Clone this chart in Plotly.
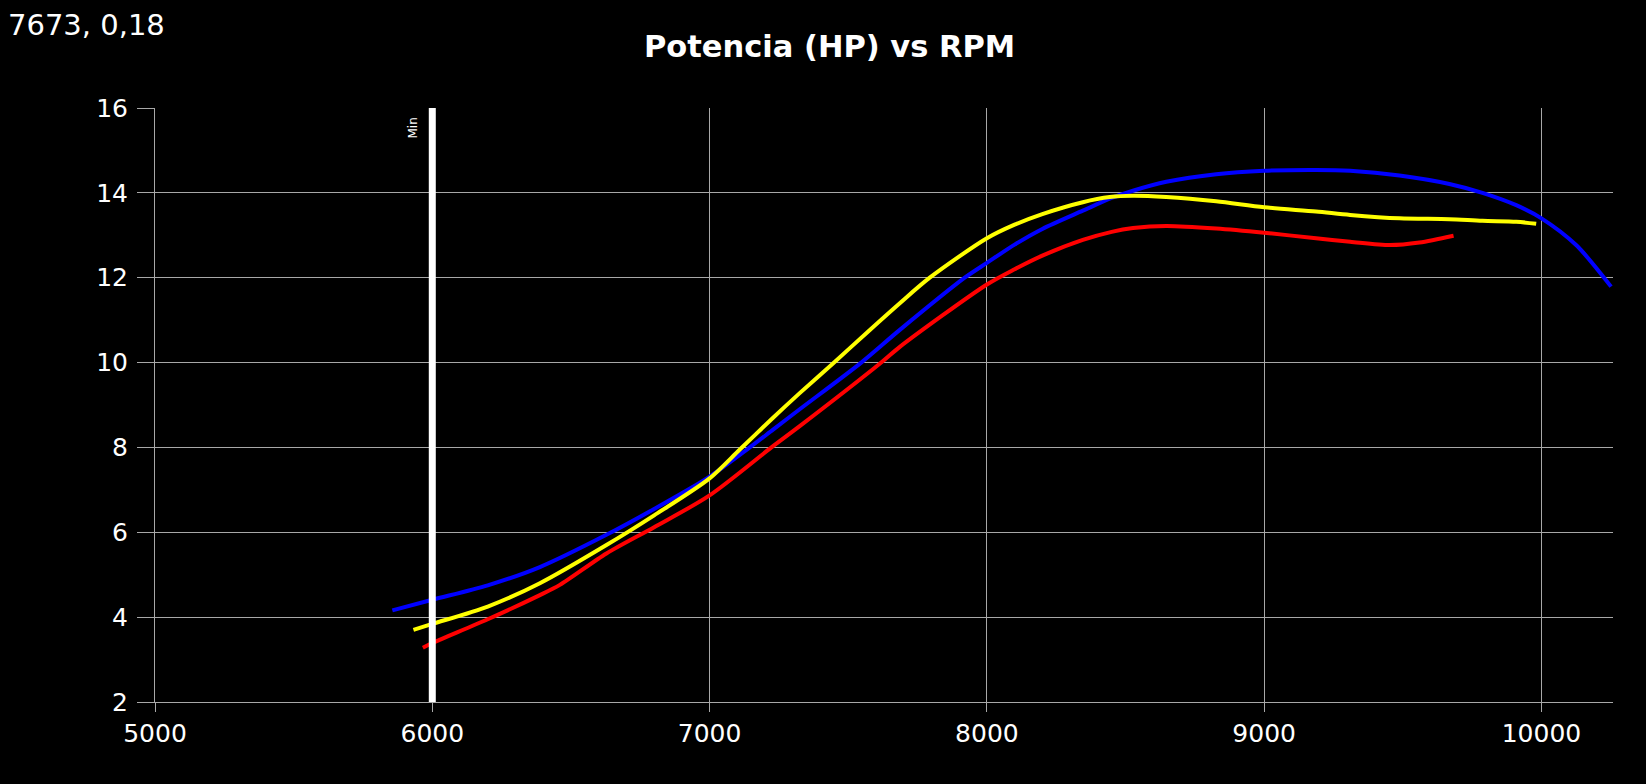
import plotly.graph_objects as go

# ---- data ----
rpm_blue = [5856, 6000, 6200, 6388, 6628, 6800, 7000, 7145, 7229, 7325, 7547, 7686,
            7920, 8000, 8100, 8200, 8346, 8450, 8527, 8647, 8827, 9000, 9187, 9310,
            9488, 9668, 9787, 9909, 10000, 10125, 10251]
hp_blue = [4.16, 4.41, 4.75, 5.18, 5.94, 6.55, 7.31, 8.0, 8.42, 8.90, 10.0, 10.77,
           12.0, 12.35, 12.78, 13.15, 13.58, 13.88, 14.05, 14.26, 14.44, 14.52, 14.54, 14.52,
           14.41, 14.21, 14.00, 13.71, 13.40, 12.77, 11.79]

rpm_yellow = [5932, 6000, 6200, 6388, 6628, 6800, 7000, 7109, 7229, 7325, 7445, 7578,
              7686, 7794, 8000, 8100, 8200, 8346, 8443, 8527, 8647, 8827, 9000, 9187,
              9310, 9488, 9668, 9787, 9909, 9981]
hp_yellow = [3.70, 3.84, 4.25, 4.80, 5.70, 6.40, 7.27, 7.95, 8.70, 9.28, 9.98, 10.77,
             11.40, 12.0, 12.93, 13.25, 13.50, 13.78, 13.90, 13.93, 13.90, 13.80, 13.66, 13.56,
             13.48, 13.40, 13.38, 13.34, 13.32, 13.27]

rpm_red = [5966, 6000, 6200, 6388, 6460, 6628, 6800, 7000, 7223, 7325, 7619, 7686,
           8000, 8100, 8200, 8346, 8450, 8527, 8647, 8827, 9000, 9187, 9310, 9453,
           9560, 9683]
hp_red = [3.28, 3.39, 3.95, 4.52, 4.76, 5.50, 6.12, 6.87, 8.0, 8.50, 10.0, 10.37,
          11.84, 12.20, 12.52, 12.89, 13.08, 13.17, 13.22, 13.16, 13.06, 12.93, 12.85, 12.77,
          12.83, 12.99]

x_ticks = [5000, 6000, 7000, 8000, 9000, 10000]
x_tick_text = ["5000", "6000", "7000", "8000", "9000", "10000"]
y_ticks = [2, 4, 6, 8, 10, 12, 14, 16]
min_rpm = 6000
cursor_text = "7673, 0,18"
title_text = "Potencia (HP) vs RPM"

FONT = "DejaVu Sans"
GRID = "#a8a8a8"

fig = go.Figure()
for xs, ys, col in [(rpm_blue, hp_blue, "#0000ff"),
                    (rpm_yellow, hp_yellow, "#ffff00"),
                    (rpm_red, hp_red, "#ff0000")]:
    fig.add_trace(go.Scatter(x=xs, y=ys, mode="lines",
                             line=dict(color=col, width=4, shape="spline", smoothing=0.8),
                             showlegend=False, hoverinfo="skip"))

fig.add_shape(type="line", xref="x", yref="paper", x0=min_rpm, x1=min_rpm, y0=0, y1=1,
              line=dict(color="white", width=7), layer="above")
fig.add_annotation(xref="x", yref="paper", x=min_rpm, y=0.966, text="Min",
                   textangle=-90, showarrow=False, xanchor="right", yanchor="middle",
                   xshift=-10, font=dict(family=FONT, size=12, color="white"))

fig.add_annotation(xref="paper", yref="paper", x=-0.102, y=1.14, text=cursor_text,
                   showarrow=False, xanchor="left", yanchor="middle",
                   font=dict(family=FONT, size=29, color="white"))

fig.update_layout(
    width=1646, height=784,
    paper_bgcolor="black", plot_bgcolor="black",
    margin=dict(l=155, r=33, t=108, b=82),
    title=dict(text=f"<b>{title_text}</b>", x=0.504, xref="container", xanchor="center",
               y=1 - 46 / 784, yref="container", yanchor="middle",
               font=dict(family=FONT, size=30.5, color="white")),
    xaxis=dict(range=[5000, 10258], tickvals=x_ticks, ticktext=x_tick_text,
               showgrid=True, gridcolor=GRID,
               gridwidth=1, zeroline=False, showline=True, linecolor=GRID, linewidth=1,
               ticks="outside", ticklen=9, tickcolor=GRID,
               tickfont=dict(family=FONT, size=25, color="white")),
    yaxis=dict(range=[2, 16], tickvals=y_ticks, showgrid=True, gridcolor=GRID,
               gridwidth=1, zeroline=False, showline=True, linecolor=GRID, linewidth=1,
               ticks="outside", ticklen=17, tickcolor=GRID, ticklabelstandoff=4,
               tickfont=dict(family=FONT, size=25, color="white")),
)

fig.write_html("out.html")
